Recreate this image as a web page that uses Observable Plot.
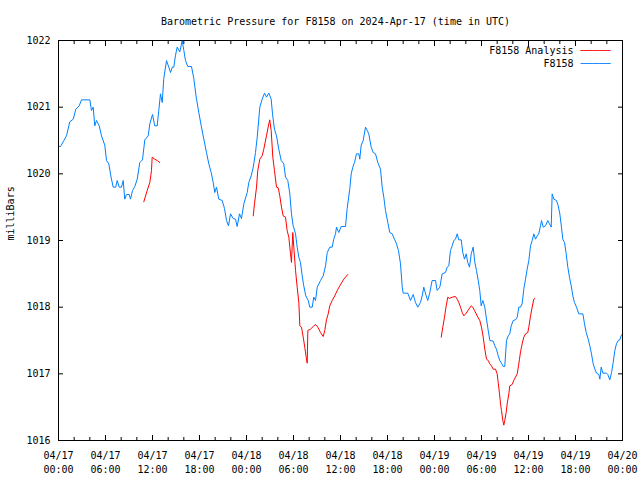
<!DOCTYPE html>
<html><head><meta charset="utf-8">
<script src="https://cdn.jsdelivr.net/npm/d3@7"></script>
<script src="https://cdn.jsdelivr.net/npm/@observablehq/plot@0.6"></script>
<style>body{margin:0;background:#fff} svg{display:block}</style>
</head><body><div id="chart"></div>
<script>
// hours since 2024-04-17 00:00 UTC
const stationHours = [0,0.26,0.68,1.02,1.44,1.88,2.21,2.64,2.94,4.0,4.21,4.43,4.63,4.85,5.2,5.49,5.91,6.13,6.42,6.68,6.98,7.31,7.49,7.75,8.04,8.26,8.46,8.68,9.03,9.19,9.45,9.74,10.05,10.38,10.72,11.02,11.45,11.66,12.0,12.29,12.6,12.8,13.02,13.24,13.44,13.79,14.08,14.3,14.52,14.72,14.94,15.15,15.49,15.79,16.0,16.21,16.51,16.98,17.27,17.58,17.91,18.22,18.55,18.89,19.19,19.49,19.75,19.95,20.17,20.46,20.9,21.19,21.45,21.7,21.96,22.3,22.6,22.81,23.11,23.36,23.66,24.09,24.29,24.6,24.86,25.15,25.37,25.7,26.0,26.3,26.55,26.85,27.15,27.32,27.57,27.83,28.12,28.43,28.76,28.98,29.27,29.53,29.74,29.96,30.26,30.47,30.68,30.89,31.11,31.31,31.57,31.88,32.08,32.39,32.59,32.81,33.03,33.45,33.79,34.09,34.31,34.63,34.94,35.14,35.36,35.49,35.78,36.09,36.64,36.85,37.19,37.37,37.57,37.79,38.04,38.34,38.46,38.64,38.9,39.19,39.41,39.61,39.92,40.17,40.47,40.76,41.11,41.32,41.53,41.74,42.04,42.29,42.6,42.89,43.15,43.4,43.66,43.88,44.0,44.59,44.94,45.28,45.57,45.87,46.21,46.43,46.63,46.94,47.14,47.4,47.7,48.13,48.34,48.68,48.98,49.4,49.62,49.83,50.04,50.26,50.46,50.68,50.9,51.1,51.41,51.61,51.83,52.05,52.25,52.47,52.69,52.94,53.15,53.36,53.58,53.78,53.96,54.17,54.42,54.64,54.86,55.06,55.49,55.7,55.91,56.13,56.33,56.55,56.77,56.97,57.19,57.41,57.61,57.79,58.05,58.34,58.56,58.76,58.98,59.19,59.4,59.62,59.83,60.04,60.26,60.47,60.68,60.89,61.11,61.31,61.53,61.66,61.88,62.17,62.46,62.68,62.9,63.02,63.23,63.57,63.79,64.0,64.21,64.38,64.6,64.81,65.02,65.23,65.45,65.66,65.87,66.13,66.42,66.94,67.15,67.37,67.62,67.83,68.04,68.26,68.47,68.68,68.98,69.11,69.28,69.49,69.96,70.12,70.38,70.6,70.81,71.02,71.23,71.45,71.66,71.83,72.0];
const stationPressure = [1020.41,1020.41,1020.5,1020.57,1020.78,1020.82,1020.97,1021.02,1021.11,1021.11,1020.95,1021.0,1020.72,1020.8,1020.72,1020.57,1020.43,1020.2,1020.15,1019.97,1019.8,1019.8,1019.9,1019.8,1019.8,1019.9,1019.62,1019.69,1019.69,1019.62,1019.75,1019.81,1019.92,1020.17,1020.21,1020.51,1020.57,1020.75,1020.89,1020.72,1020.72,1020.95,1021.2,1021.07,1021.43,1021.7,1021.6,1021.52,1021.6,1021.6,1021.78,1021.9,1021.83,1022.0,1021.85,1021.7,1021.61,1021.61,1021.43,1021.15,1020.92,1020.72,1020.52,1020.32,1020.15,1020.02,1019.87,1019.72,1019.8,1019.62,1019.6,1019.48,1019.3,1019.22,1019.4,1019.33,1019.32,1019.21,1019.4,1019.33,1019.55,1019.72,1019.87,1019.97,1020.1,1020.32,1020.55,1021.0,1021.12,1021.21,1021.15,1021.21,1021.12,1020.9,1020.67,1020.57,1020.37,1020.2,1020.15,1019.95,1019.9,1019.7,1019.4,1019.22,1019.1,1018.9,1018.75,1018.67,1018.47,1018.32,1018.17,1018.1,1018.0,1018.0,1018.15,1018.1,1018.3,1018.4,1018.47,1018.62,1018.82,1018.9,1018.9,1019.02,1019.1,1019.2,1019.12,1019.21,1019.21,1019.48,1019.78,1020.0,1020.1,1020.17,1020.3,1020.3,1020.22,1020.43,1020.5,1020.7,1020.65,1020.6,1020.4,1020.32,1020.3,1020.17,1020.07,1019.8,1019.65,1019.45,1019.27,1019.12,1019.1,1019.02,1018.95,1018.85,1018.65,1018.3,1018.21,1018.21,1018.1,1018.19,1018.07,1018.0,1018.07,1018.17,1018.3,1018.17,1018.1,1018.22,1018.4,1018.4,1018.25,1018.3,1018.5,1018.52,1018.6,1018.62,1018.85,1018.92,1019.0,1019.02,1019.1,1019.01,1019.01,1018.82,1018.72,1018.8,1018.67,1018.6,1018.8,1018.9,1018.67,1018.55,1018.4,1018.25,1018.02,1018.1,1018.0,1017.82,1017.65,1017.5,1017.49,1017.42,1017.37,1017.27,1017.2,1017.16,1017.11,1017.11,1017.5,1017.57,1017.6,1017.72,1017.8,1017.81,1017.85,1018.0,1018.0,1018.05,1018.27,1018.42,1018.57,1018.7,1018.92,1019.0,1019.1,1019.02,1019.07,1019.1,1019.22,1019.3,1019.2,1019.22,1019.3,1019.25,1019.2,1019.7,1019.62,1019.6,1019.52,1019.4,1019.2,1019.02,1018.97,1018.8,1018.6,1018.45,1018.32,1018.17,1018.07,1018.0,1017.9,1017.9,1017.75,1017.62,1017.52,1017.42,1017.3,1017.15,1017.07,1017.01,1016.99,1016.92,1017.1,1017.01,1017.01,1016.99,1016.91,1017.02,1017.17,1017.35,1017.45,1017.5,1017.51,1017.57,1017.6];

const analysisHours = [10.89,11.32,11.66,11.87,11.96,12.29,12.6,12.93,
  24.86,25.02,25.28,25.44,25.7,26.0,26.21,26.55,26.85,26.97,27.15,27.36,27.57,27.83,28.05,28.25,28.47,28.68,28.98,29.19,29.4,29.62,29.74,29.91,30.04,30.26,30.47,30.68,30.81,31.02,31.24,31.44,31.62,31.75,31.83,32.17,32.51,32.81,33.1,33.45,33.79,33.99,34.21,34.43,34.63,34.94,35.27,35.58,35.91,36.42,36.93,
  48.86,49.06,49.28,49.49,49.7,49.91,50.26,50.68,50.9,51.1,51.32,51.54,51.74,52.05,52.38,52.69,52.89,53.11,53.32,53.53,53.78,54.0,54.22,54.42,54.64,54.86,55.06,55.28,55.49,55.79,56.0,56.13,56.3,56.43,56.55,56.72,56.85,56.97,57.15,57.28,57.49,57.61,57.92,58.12,58.34,58.56,58.72,58.85,58.98,59.19,59.4,59.62,59.91,60.04,60.26,60.47,60.68,60.81];
const analysisPressure = [1019.58,1019.75,1019.87,1020.05,1020.25,1020.22,1020.2,1020.17,
  1019.37,1019.55,1019.8,1020.05,1020.22,1020.27,1020.37,1020.57,1020.75,1020.81,1020.65,1020.25,1020.05,1019.8,1019.79,1019.67,1019.5,1019.37,1019.35,1019.15,1019.05,1018.8,1018.67,1019.12,1018.9,1018.55,1018.3,1018.07,1017.72,1017.7,1017.55,1017.4,1017.25,1017.16,1017.65,1017.67,1017.71,1017.74,1017.7,1017.62,1017.56,1017.65,1017.81,1017.9,1018.02,1018.1,1018.17,1018.25,1018.32,1018.42,1018.49,
  1017.55,1017.7,1017.85,1018.02,1018.15,1018.13,1018.15,1018.16,1018.12,1018.07,1018.0,1017.92,1017.87,1017.91,1017.97,1018.02,1018.0,1017.95,1017.9,1017.85,1017.8,1017.7,1017.55,1017.37,1017.22,1017.2,1017.15,1017.12,1017.07,1017.07,1017.0,1016.87,1016.7,1016.55,1016.45,1016.3,1016.23,1016.3,1016.42,1016.55,1016.7,1016.82,1016.84,1016.9,1016.95,1017.0,1017.12,1017.22,1017.33,1017.45,1017.55,1017.6,1017.62,1017.7,1017.87,1018.0,1018.12,1018.13];
const analysisRun = [].concat(Array(8).fill(1), Array(51).fill(2), Array(64).fill(3));

const majorTicks = [0,6,12,18,24,30,36,42,48,54,60,66,72];
const minorTicks = [2,4,8,10,14,16,20,22,26,28,32,34,38,40,44,46,50,52,56,58,62,64,68,70];
const dateLabels = ["04/17","04/17","04/17","04/17","04/18","04/18","04/18","04/18","04/19","04/19","04/19","04/19","04/20"];
const timeLabels = ["00:00","06:00","12:00","18:00","00:00","06:00","12:00","18:00","00:00","06:00","12:00","18:00","00:00"];
const yTicks = [1016,1017,1018,1019,1020,1021,1022];

const titleText = "Barometric Pressure for F8158 on 2024-Apr-17 (time in UTC)";
const yLabel = "milliBars";
const seriesNames = ["F8158 Analysis", "F8158"];
const seriesColors = ["#ff0000", "#0080ff"];

const station = stationHours.map((h, i) => ({h, p: stationPressure[i]}));
const analysis = analysisHours.map((h, i) => ({h, p: analysisPressure[i], run: analysisRun[i]}));

const chart = Plot.plot({
  width: 640, height: 480,
  marginLeft: 58, marginRight: 18, marginTop: 40, marginBottom: 40,
  style: {fontFamily: "DejaVu Sans Mono", fontSize: "10px", color: "#000", background: "#fff", overflow: "visible"},
  x: {domain: [0, 72], label: null},
  y: {domain: [1016, 1022], label: null},
  marks: [
    Plot.line(analysis, {x: "h", y: "p", z: "run", stroke: seriesColors[0], strokeWidth: 1}),
    Plot.line(station, {x: "h", y: "p", stroke: seriesColors[1], strokeWidth: 1}),
    Plot.frame({stroke: "#000"}),
    // inward ticks
    Plot.axisX({anchor: "bottom", ticks: majorTicks, tickSize: -5, tickFormat: () => "", label: null}),
    Plot.axisX({anchor: "top", ticks: majorTicks, tickSize: -5, tickFormat: () => "", label: null}),
    Plot.axisX({anchor: "bottom", ticks: minorTicks, tickSize: -3, tickFormat: () => "", label: null}),
    Plot.axisX({anchor: "top", ticks: minorTicks, tickSize: -3, tickFormat: () => "", label: null}),
    Plot.axisY({anchor: "left", ticks: yTicks, tickSize: -5, tickFormat: () => "", label: null}),
    Plot.axisY({anchor: "right", ticks: yTicks, tickSize: -5, tickFormat: () => "", label: null}),
    // tick labels
    Plot.axisX({anchor: "bottom", ticks: majorTicks, tickSize: 0, tickPadding: 11, tickFormat: d => dateLabels[majorTicks.indexOf(d)], label: null}),
    Plot.axisX({anchor: "bottom", ticks: majorTicks, tickSize: 0, tickPadding: 25, tickFormat: d => timeLabels[majorTicks.indexOf(d)], label: null}),
    Plot.axisY({anchor: "left", ticks: yTicks, tickSize: 0, tickPadding: 8, tickFormat: d => String(d), label: null}),
    // title and y label
    Plot.text([titleText], {frameAnchor: "top", dy: -23, dx: -5, fill: "#000"}),
    Plot.text([yLabel], {frameAnchor: "left", dx: -48, rotate: -90, fill: "#000"}),
    // legend
    Plot.text([seriesNames[0]], {frameAnchor: "top-right", textAnchor: "end", dx: -49, dy: 6, fill: "#000"}),
    Plot.text([seriesNames[1]], {frameAnchor: "top-right", textAnchor: "end", dx: -49, dy: 19, fill: "#000"}),
    Plot.text(["\u2500\u2500\u2500\u2500\u2500"], {frameAnchor: "top-right", textAnchor: "end", dx: -12, dy: 6, fill: seriesColors[0]}),
    Plot.text(["\u2500\u2500\u2500\u2500\u2500"], {frameAnchor: "top-right", textAnchor: "end", dx: -12, dy: 19, fill: seriesColors[1]})
  ]
});
document.getElementById("chart").appendChild(chart);
</script>
</body></html>
